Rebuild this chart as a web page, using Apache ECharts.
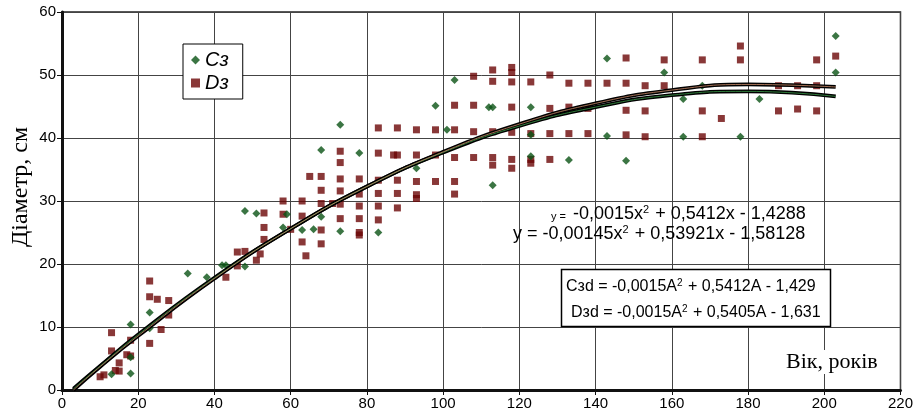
<!DOCTYPE html>
<html>
<head>
<meta charset="utf-8">
<script src="https://cdn.jsdelivr.net/npm/echarts@6/dist/echarts.min.js"></script>
<style>
  html, body { margin: 0; padding: 0; background: #fff; }
  #chart { width: 916px; height: 414px; }
</style>
</head>
<body>
<div id="chart"></div>
<script>
// вік / діаметр, Cз
const c3Age = [13, 18, 18, 18, 23, 23, 33, 38, 42, 43, 48, 48, 51, 58, 59, 63, 66, 68, 68, 73, 73, 78, 83, 93, 98, 101, 103, 112, 113, 113, 123, 123, 123, 133, 143, 143, 148, 158, 163, 163, 168, 178, 183, 203, 203]
const c3Diam = [2.5, 10.4, 2.6, 5.2, 12.3, 9.8, 18.5, 17.9, 19.8, 19.8, 19.6, 28.4, 28.0, 25.8, 27.9, 25.4, 25.5, 27.5, 38.1, 42.1, 25.2, 37.6, 25.0, 35.2, 45.1, 41.3, 49.2, 44.9, 44.9, 32.5, 44.9, 40.5, 37.1, 36.5, 52.6, 40.3, 36.4, 50.4, 46.2, 40.2, 48.3, 40.2, 46.2, 56.2, 50.4]

// вік / діаметр, Dз
const d3Age = [10, 11, 13, 13, 14, 15, 15, 17, 18, 18, 23, 23, 25, 23, 26, 28, 28, 43, 46, 46, 48, 51, 52, 53, 53, 53, 58, 58, 60, 63, 63, 63, 64, 65, 68, 68, 68, 68, 68, 71,
  73, 73, 73, 73, 73, 73, 78, 78, 78, 78, 78, 78, 83, 83, 83, 83, 83, 83, 87, 88, 88, 88, 88, 88, 93, 93, 93, 93, 93, 98, 98, 98,
  103, 103, 103, 103, 103, 108, 108, 108, 108, 113, 113, 113, 113, 113, 118, 118, 118, 118, 118, 118, 118, 123, 123, 123, 123,
  128, 128, 128, 128, 133, 133, 133, 138, 138, 138, 143, 148, 148, 148, 148, 153, 153, 153, 158, 158, 168, 168, 168, 173, 178, 178,
  188, 188, 193, 193, 198, 198, 198, 203]
const d3Diam = [2.1, 2.4, 9.1, 6.2, 3.1, 3.0, 4.3, 5.6, 5.4, 7.9, 17.3, 14.8, 14.4, 7.4, 9.6, 14.2, 11.9, 17.9, 21.9, 19.7, 22.0, 20.6, 21.6, 28.1, 25.8, 23.9, 30.0, 27.9, 25.5, 30.0, 27.6, 23.5, 21.3, 33.9, 33.9, 31.7, 29.6, 25.4, 23.2, 29.6,
  37.9, 36.1, 33.5, 31.6, 29.5, 27.2, 33.5, 31.1, 29.2, 27.2, 25.0, 24.6, 41.6, 37.6, 33.3, 31.2, 29.2, 27.0, 37.3, 41.6, 37.3, 33.3, 31.2, 28.9, 41.3, 37.3, 33.1, 31.0, 30.4, 41.3, 37.3, 33.1,
  45.2, 41.3, 36.9, 33.1, 31.1, 49.8, 45.2, 41.0, 36.9, 50.8, 49.0, 41.0, 36.9, 35.7, 51.2, 50.4, 48.9, 44.9, 40.9, 36.6, 35.2, 48.9, 40.7, 36.6, 36.0,
  50.0, 44.7, 40.7, 36.6, 48.7, 44.9, 40.7, 48.7, 44.7, 40.7, 48.7, 52.7, 48.7, 44.4, 40.5, 48.3, 44.3, 40.2, 52.4, 48.3, 52.4, 44.3, 40.2, 43.1, 54.6, 52.4,
  48.3, 44.3, 48.3, 44.6, 52.4, 48.3, 44.3, 53.0]

// лінії тренду
const trendAge = [3, 10, 20, 40, 60, 80, 100, 120, 140, 160, 180, 203]
const c3Trend = [0.2, 3.8, 8.8, 17.8, 25.6, 32.3, 37.7, 41.9, 44.9, 46.8, 47.4, 46.6]
const d3Trend = [0.0, 3.7, 8.6, 17.7, 25.6, 32.3, 37.8, 42.2, 45.5, 47.6, 48.5, 48.1]

const GREEN = '#0a5214'
const RED = '#6c0606'

function zip(xs, ys) {
    return xs.map((x, i) => [x, ys[i]])
}

function trend(name, data, inner) {
    return [
        {
            name: name + '_b',
            type: 'line',
            data: data,
            smooth: true,
            showSymbol: false,
            silent: true,
            z: 5,
            lineStyle: { color: '#000', width: 3.8 }
        },
        {
            name: name + '_i',
            type: 'line',
            data: data,
            smooth: true,
            showSymbol: false,
            silent: true,
            z: 6,
            lineStyle: { color: inner, width: 0.8 }
        }
    ]
}

const sup = { fontSize: 11, fontFamily: 'Liberation Sans', fill: '#000', padding: [0, 1, 9, 0] }

const chart = echarts.init(document.getElementById('chart'))

chart.setOption({
    animation: false,
    backgroundColor: '#fff',
    grid: {
        left: 62,
        right: 9,
        top: 12,
        bottom: 24,
        show: true,
        borderColor: '#222',
        borderWidth: 1.5
    },
    legend: {
        orient: 'vertical',
        left: 183,
        top: 44,
        padding: [6, 14, 6, 8],
        itemGap: 3,
        itemWidth: 9,
        itemHeight: 9,
        backgroundColor: '#fff',
        borderColor: '#000',
        borderWidth: 1,
        textStyle: {
            fontFamily: 'Liberation Sans',
            fontStyle: 'italic',
            fontSize: 20,
            color: '#000'
        },
        data: [
            { name: 'Cз', icon: 'diamond' },
            { name: 'Dз', icon: 'rect' }
        ]
    },
    xAxis: {
        type: 'value',
        min: 0,
        max: 220,
        interval: 20,
        axisLine: { onZero: false, lineStyle: { color: '#111', width: 3 } },
        axisTick: { show: true, length: 5, lineStyle: { color: '#111', width: 1 } },
        splitLine: { show: true, lineStyle: { color: '#444', width: 1 } },
        axisLabel: {
            color: '#000',
            fontFamily: 'Liberation Sans',
            fontSize: 15,
            margin: 6
        }
    },
    yAxis: {
        type: 'value',
        min: 0,
        max: 60,
        interval: 10,
        axisLine: { show: true, onZero: false, lineStyle: { color: '#111', width: 3 } },
        axisTick: { show: true, length: 5, lineStyle: { color: '#111', width: 1 } },
        splitLine: { show: true, lineStyle: { color: '#444', width: 1 } },
        axisLabel: {
            color: '#000',
            fontFamily: 'Liberation Sans',
            fontSize: 15,
            margin: 6
        }
    },
    series: [
        {
            name: 'Cз',
            type: 'scatter',
            symbol: 'diamond',
            symbolSize: 8,
            itemStyle: { color: GREEN },
            data: zip(c3Age, c3Diam),
            z: 3
        },
        {
            name: 'Dз',
            type: 'scatter',
            symbol: 'rect',
            symbolSize: 7,
            itemStyle: { color: RED },
            data: zip(d3Age, d3Diam),
            z: 2
        },
        ...trend('Cз', zip(trendAge, c3Trend), '#3c9a4a'),
        ...trend('Dз', zip(trendAge, d3Trend), '#c98a6a')
    ],
    graphic: [
        {
            type: 'text',
            x: 21,
            y: 187,
            rotation: Math.PI / 2,
            style: {
                text: 'Діаметр, см',
                font: '24px "Liberation Serif"',
                fill: '#000',
                align: 'center',
                verticalAlign: 'middle'
            }
        },
        {
            type: 'text',
            x: 784,
            y: 362,
            z: 10,
            style: {
                text: 'Вік, років',
                font: '22px "Liberation Serif"',
                fill: '#000',
                backgroundColor: '#fff',
                verticalAlign: 'middle',
                padding: [1, 2]
            }
        },
        {
            type: 'text',
            x: 551,
            y: 214,
            z: 10,
            style: {
                text: '{s|y =} -0,0015x{u|2} + 0,5412x - 1,4288',
                font: '18px "Liberation Sans"',
                fill: '#000',
                verticalAlign: 'middle',
                rich: {
                    s: { fontSize: 11, fontFamily: 'Liberation Sans', fill: '#000', padding: [5, 2, 0, 0] },
                    u: sup
                }
            }
        },
        {
            type: 'text',
            x: 513,
            y: 234,
            z: 10,
            style: {
                text: 'y = -0,00145x{u|2} + 0,53921x - 1,58128',
                font: '18px "Liberation Sans"',
                fill: '#000',
                verticalAlign: 'middle',
                rich: { u: sup }
            }
        },
        {
            type: 'rect',
            z: 10,
            shape: { x: 561.5, y: 269.5, width: 269, height: 57 },
            style: { fill: '#fff', stroke: '#000', lineWidth: 1.5 }
        },
        {
            type: 'text',
            x: 566,
            y: 287,
            z: 11,
            style: {
                text: 'Cзd = -0,0015A{u|2} + 0,5412A - 1,429',
                font: '16px "Liberation Sans"',
                fill: '#000',
                verticalAlign: 'middle',
                rich: { u: { fontSize: 10, fontFamily: 'Liberation Sans', fill: '#000', padding: [0, 1, 8, 0] } }
            }
        },
        {
            type: 'text',
            x: 571,
            y: 313,
            z: 11,
            style: {
                text: 'Dзd = -0,0015A{u|2} + 0,5405A - 1,631',
                font: '16px "Liberation Sans"',
                fill: '#000',
                verticalAlign: 'middle',
                rich: { u: { fontSize: 10, fontFamily: 'Liberation Sans', fill: '#000', padding: [0, 1, 8, 0] } }
            }
        }
    ]
})
</script>
</body>
</html>
